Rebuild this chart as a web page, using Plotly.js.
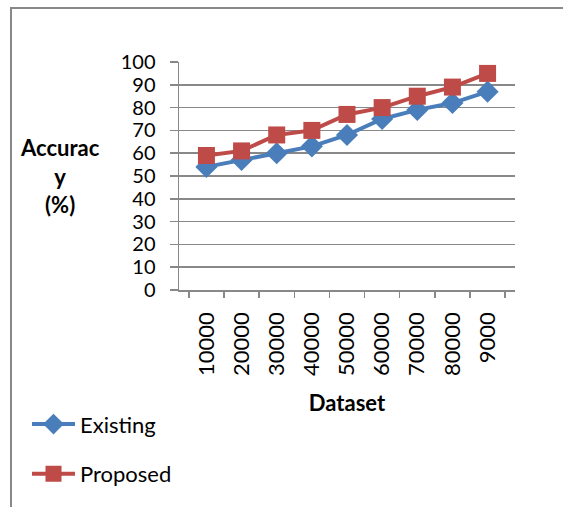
<!DOCTYPE html>
<html>
<head>
<meta charset="utf-8">
<script src="https://cdn.plot.ly/plotly-3.0.1.min.js"></script>
<style>html,body{margin:0;padding:0;background:#fff;}#chart{width:563px;height:507px;}</style>
</head>
<body>
<div id="chart"></div>
<script>
var categories = ["10000", "20000", "30000", "40000", "50000", "60000", "70000", "80000", "9000"];
var existing = [54, 57, 60, 63, 68, 75, 79, 82, 87];
var proposed = [59, 61, 68, 70, 77, 80, 85, 89, 95];
var seriesNames = ["Existing", "Proposed"];

var W = 563, H = 507;
var L = 179, R = 515, T = 62, B = 294.5;
function px(x) { return (x - L) / (R - L); }
function py(y) { return (B - y) / (B - T); }

var font = "Lato, 'Open Sans', 'DejaVu Sans', sans-serif";
var FS = 22;

var traces = [
  {
    x: categories, y: existing, name: seriesNames[0], type: "scatter", mode: "lines+markers",
    line: {color: "#4a7ebb", width: 4},
    marker: {symbol: "diamond", size: 17, color: "#4a7ebb"},
    legendgroup: "a"
  },
  {
    x: categories, y: proposed, name: seriesNames[1], type: "scatter", mode: "lines+markers",
    line: {color: "#be4b48", width: 4},
    marker: {symbol: "square", size: 17, color: "#be4b48"},
    legendgroup: "b"
  }
];

var layout = {
  width: W, height: H,
  margin: {l: L, r: W - R, t: T, b: H - B},
  paper_bgcolor: "#fff", plot_bgcolor: "#fff",
  font: {family: font, size: FS, color: "#000"},
  showlegend: true,
  legend: {
    x: px(27), y: py(410), xanchor: "left", yanchor: "top",
    font: {family: font, size: FS, color: "#000"},
    itemwidth: 43,
    tracegroupgap: 18, bgcolor: "rgba(0,0,0,0)"
  },
  xaxis: {
    type: "category",
    showgrid: false,
    showline: true, linecolor: "#888", linewidth: 1.5,
    ticks: "outside", tickson: "boundaries", ticklen: 6, tickcolor: "#888", tickwidth: 1.5,
    tickangle: -90,
    ticklabelstandoff: 12,
    tickfont: {family: font, size: FS, color: "#000"},
    title: {text: "<b>Dataset</b>", font: {family: font, size: FS, color: "#000"}, standoff: 20},
    fixedrange: true
  },
  yaxis: {
    range: [0, 100], dtick: 10,
    showgrid: true, gridcolor: "#888", gridwidth: 1.5,
    showline: true, linecolor: "#888", linewidth: 1.5,
    ticks: "outside", ticklen: 8, tickcolor: "#888", tickwidth: 1.5,
    ticklabelstandoff: 10,
    tickfont: {family: font, size: 20, color: "#000"},
    zeroline: false,
    fixedrange: true
  },
  annotations: [
    {
      xref: "paper", yref: "paper", x: px(60), y: py(178), xanchor: "center", yanchor: "middle",
      text: "<b>Accurac<br>y<br>(%)</b>", showarrow: false,
      font: {family: font, size: FS, color: "#000"}, align: "center"
    }
  ],
  shapes: [
    {
      type: "rect", xref: "paper", yref: "paper",
      x0: px(11), y0: py(540), x1: px(600), y1: py(7),
      line: {color: "#888", width: 2}, fillcolor: "rgba(0,0,0,0)", layer: "below"
    }
  ]
};

Plotly.newPlot("chart", traces, layout, {displayModeBar: false, staticPlot: true});
</script>
</body>
</html>
